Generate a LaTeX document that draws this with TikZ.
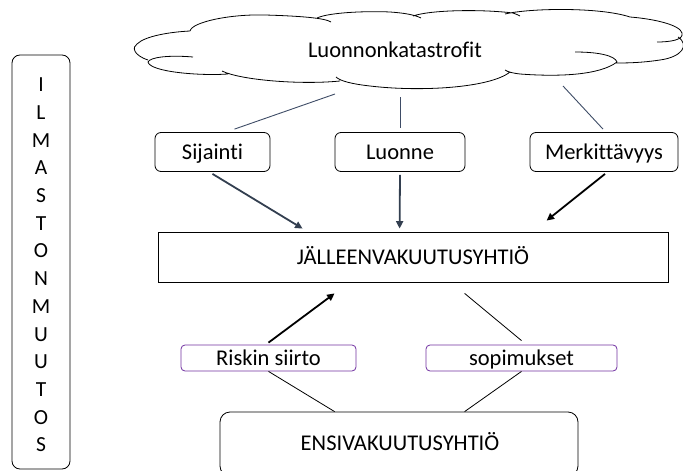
\documentclass[tikz,border=0pt]{standalone}
\usepackage{fontspec}
\setmainfont{Carlito}[Ligatures={NoCommon,NoContextual}]
\usetikzlibrary{arrows.meta,calc}
\definecolor{slate}{HTML}{3E4C66}
\definecolor{darkslate}{HTML}{333F50}
\definecolor{purp}{HTML}{7030A0}
\tikzset{
  txt/.style={font=\fontsize{22.5}{27}\selectfont, inner sep=0pt, text height=14.5pt, text depth=0pt},
  topbox/.style={draw=black, line width=0.8pt, rounded corners=6pt, minimum height=39pt, txt},
  purpbox/.style={draw=purp, line width=0.8pt, rounded corners=4pt, minimum height=26pt, txt},
  cloudline/.style={draw=black, line width=0.8pt},
  thinslate/.style={draw=slate, line width=0.9pt},
  bigarrow/.style={line width=1.8pt, -{Triangle[length=7.5pt,width=7pt]}},
  thinblack/.style={draw=black, line width=0.8pt}
}
\begin{document}
\begin{tikzpicture}[x=1pt,y=-1pt]
\useasboundingbox (0,0) rectangle (683,471);
% left box
\node[draw=black, line width=0.8pt, rounded corners=8pt, minimum width=58pt, minimum height=414pt, inner sep=0pt] (ilm) at (41,262) {};
\node[align=center, font=\fontsize{21.5}{27.7}\selectfont, inner sep=0pt] (ilmtext) at (41,265)
  {I\\L\\M\\A\\S\\T\\O\\N\\M\\U\\U\\T\\O\\S};
% cloud
\draw[cloudline]
  (148,60) .. controls (133,55) and (132,47) .. (137,44) .. controls (145,36) and (170,32) .. (190,31)
  (190,31) .. controls (192,22) and (230,14) .. (265,15) .. controls (300,16) and (325,18) .. (331,22)
  (317,18) .. controls (330,12) and (370,11) .. (390,12) .. controls (405,13) and (415,15) .. (421,18)
  (413,16) .. controls (430,10) and (480,9) .. (513,13) .. controls (516,14) and (518,15) .. (520,16)
  (505,14) .. controls (530,8) and (600,7) .. (630,17)
  (630,17) .. controls (655,19) and (680,25) .. (682,33) .. controls (684,40) and (670,42) .. (657,42)
  (678,37) .. controls (690,45) and (682,57) .. (660,60) .. controls (640,63) and (625,63) .. (615,63)
  (575,52) .. controls (600,52) and (615,56) .. (617,62)
  (617,62) .. controls (600,75) and (560,77) .. (520,74) .. controls (512,73) and (508,72) .. (505,70)
  (510,72) .. controls (490,88) and (420,92) .. (370,86) .. controls (352,84) and (340,81) .. (336,77)
  (340,81) .. controls (300,85) and (240,80) .. (222,71)
  (228,74) .. controls (200,76) and (150,72) .. (148,62) .. controls (150,57) and (170,55) .. (193,57);
\node[txt] (cloud) at (395,50) {Luonnonkatastrofit};
\coordinate (c1) at (335,94);
\coordinate (c2) at (400,97);
\coordinate (c3) at (563,86);
% top boxes
\node[topbox, minimum width=115pt] (sij) at (212.5,152) {Sijainti};
\node[topbox, minimum width=130pt] (luo) at (400,152) {Luonne};
\node[topbox, minimum width=148pt] (mer) at (604,152) {Merkittävyys};
% main boxes
\node[draw=black, line width=0.8pt, minimum width=510pt, minimum height=50pt, inner sep=0pt] (jal) at (413,257) {};
\node[txt] (jaltext) at (413,257) {JÄLLEENVAKUUTUSYHTIÖ};
\node[purpbox, minimum width=175pt] (ris) at (268.5,358) {Riskin siirto};
\node[purpbox, minimum width=191pt] (sop) at (521.5,358) {sopimukset};
\node[draw=black, line width=0.8pt, rounded corners=10pt, minimum width=358pt, minimum height=64pt, inner sep=0pt] (ensi) at (399,444) {};
\node[txt] (ensitext) at (400,443) {ENSIVAKUUTUSYHTIÖ};
% connectors from cloud
\draw[thinslate] (c1) -- ($(sij.north)+(22,-3)$);
\draw[thinslate] (c2) -- ($(luo.north)+(0,-4)$);
\draw[thinslate] (c3) -- ($(mer.north)+(-1,-3)$);
% arrows to jal
\draw[bigarrow, darkslate] ($(sij.south)+(0,2)$) -- ($(jal.north west)+(145,-3)$);
\draw[bigarrow, darkslate] ($(luo.south)+(0,3)$) -- ($(jal.north west)+(242,-3)$);
\draw[bigarrow, black] ($(mer.south)+(1,2)$) -- ($(jal.north west)+(389,-11)$);
\draw[bigarrow, black] ($(ris.north)+(0,-2)$) -- ($(jal.south west)+(177,11)$);
\draw[thinblack] ($(jal.south west)+(307,11)$) -- ($(sop.north)+(0,-4)$);
\draw[thinblack] (ris.south) -- ($(ensi.north west)+(115,0)$);
\draw[thinblack] (sop.south) -- ($(ensi.north west)+(245,0)$);
\end{tikzpicture}
\end{document}
